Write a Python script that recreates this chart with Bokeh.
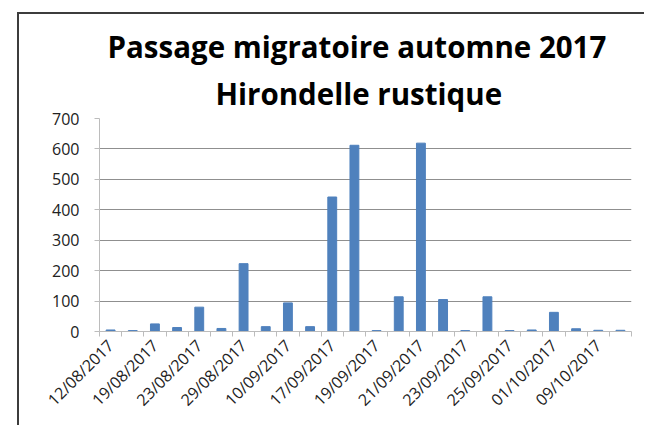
import math
from bokeh.plotting import figure
from bokeh.models import FixedTicker, Title, ColumnDataSource
from bokeh.embed import file_html
from bokeh.resources import INLINE

# ---- data ----
dates = ["12/08/2017", "16/08/2017", "19/08/2017", "21/08/2017", "23/08/2017", "26/08/2017",
         "29/08/2017", "03/09/2017", "10/09/2017", "14/09/2017", "17/09/2017", "18/09/2017",
         "19/09/2017", "20/09/2017", "21/09/2017", "22/09/2017", "23/09/2017", "24/09/2017",
         "25/09/2017", "28/09/2017", "01/10/2017", "05/10/2017", "09/10/2017", "13/10/2017"]
counts = [5, 3, 25, 13, 80, 10, 223, 16, 94, 16, 442, 612,
          3, 114, 619, 105, 3, 114, 3, 5, 63, 9, 4, 4]
y_ticks = [0, 100, 200, 300, 400, 500, 600, 700]
title_line1 = "Passage migratoire automne 2017"
title_line2 = "Hirondelle rustique"

FONT = "Open Sans"
pos = list(range(1, len(dates) + 1))
src = ColumnDataSource(dict(x=pos, y=counts, d=dates))

p = figure(width=627, height=413, x_range=(0.5, len(dates) + 0.5), y_range=(0, 700),
           output_backend="svg", toolbar_location=None,
           min_border_left=80, min_border_right=15, min_border_top=104, min_border_bottom=96)
p.title.text = ""
# chart-area border: only its top and left edges are visible in the reference
p.styles = {"position": "absolute", "left": "19px", "top": "14px",
            "box-shadow": "-2px -2px 0px 0px #3c3c3c", "overflow": "hidden"}

p.vbar(x="x", top="y", width=0.4, source=src, fill_color="#4F81BD", line_color="#4F81BD")

t2 = Title(text=title_line2, align="left", text_font=FONT, text_font_size="29.5px",
           text_font_style="bold", text_color="#000000", standoff=9, offset=116)
t1 = Title(text=title_line1, align="left", text_font=FONT, text_font_size="29.5px",
           text_font_style="bold", text_color="#000000", standoff=0, offset=8)
p.add_layout(t2, "above")
p.add_layout(t1, "above")

p.outline_line_color = None
p.xgrid.grid_line_color = None
p.ygrid.grid_line_color = "#8f8f8f"
p.ygrid.grid_line_width = 1

# y axis
p.yaxis.ticker = FixedTicker(ticks=y_ticks)
p.yaxis.axis_line_color = "#bcbcbc"
p.yaxis.major_tick_line_color = "#bcbcbc"
p.yaxis.major_tick_out = 5
p.yaxis.major_tick_in = 0
p.yaxis.minor_tick_line_color = None
p.yaxis.major_label_text_font = FONT
p.yaxis.major_label_text_font_size = "16px"
p.yaxis.major_label_text_color = "#222222"
p.yaxis.major_label_standoff = 15

# x axis: labels every second category, ticks at category boundaries
label_pos = pos[::2]
p.xaxis.ticker = FixedTicker(ticks=label_pos,
                             minor_ticks=[i + 0.5 for i in range(0, len(dates) + 1)])
p.xaxis.major_label_overrides = {i: dates[i - 1] for i in label_pos}
p.xaxis.major_tick_out = 0
p.xaxis.major_tick_in = 0
p.xaxis.minor_tick_out = 5
p.xaxis.minor_tick_in = 0
p.xaxis.minor_tick_line_color = "#bcbcbc"
p.xaxis.axis_line_color = "#bcbcbc"
p.xaxis.major_label_orientation = math.pi / 4
p.xaxis.major_label_text_font = FONT
p.xaxis.major_label_text_font_size = "16px"
p.xaxis.major_label_text_color = "#222222"
p.xaxis.major_label_standoff = 6

open("out.html", "w").write(file_html(p, INLINE))
